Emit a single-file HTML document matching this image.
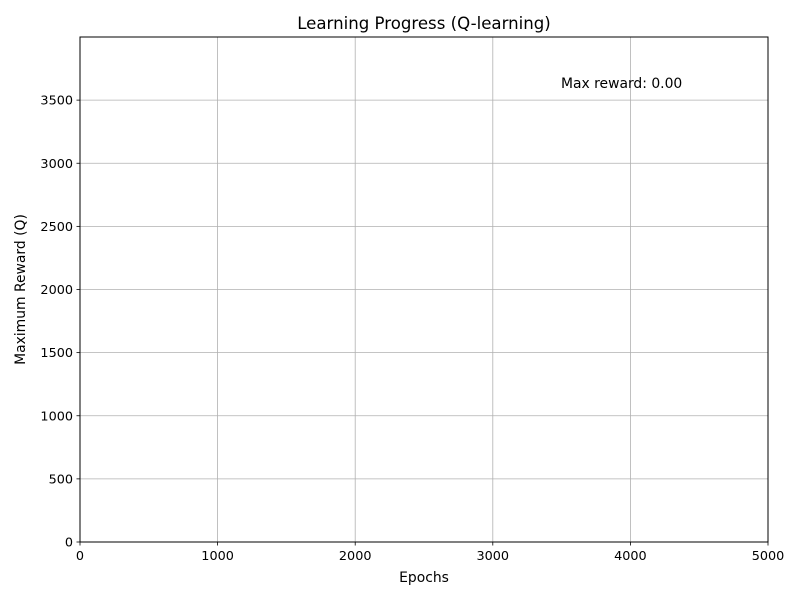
<!DOCTYPE html>
<html><head><meta charset="utf-8"><style>
body{margin:0;background:#fff;font-family:"DejaVu Sans","Liberation Sans",sans-serif;}
</style></head><body>
<svg id="chart" width="800" height="600" xmlns="http://www.w3.org/2000/svg" font-family="'DejaVu Sans','Liberation Sans',sans-serif">
<rect width="800" height="600" fill="#fff"/>
<g id="grid"></g>
<g id="series"></g>
<rect x="80" y="37" width="688" height="505" fill="none" stroke="#000" stroke-width="1"/>
<g id="ticks"></g>
<text x="424" y="29" font-size="16.6" text-anchor="middle">Learning Progress (Q-learning)</text>
<text x="424" y="582" font-size="13.9" text-anchor="middle">Epochs</text>
<text transform="translate(25,289.5) rotate(-90)" font-size="13.9" text-anchor="middle">Maximum Reward (Q)</text>
<text x="561" y="88" font-size="13.9">Max reward: 0.00</text>
</svg>
<script>
const xTicks=[0,1000,2000,3000,4000,5000];
const yTicks=[0,500,1000,1500,2000,2500,3000,3500];
const epochs=[0,5000];
const rewards=[0,0];
const X0=80,X1=768,Y0=542,Y1=37,XMAX=5000,YMAX=4000;
function sx(v){return X0+(v/XMAX)*(X1-X0);}
function sy(v){return Y0-(v/YMAX)*(Y0-Y1);}
const NS="http://www.w3.org/2000/svg";
const grid=document.getElementById('grid'),ticks=document.getElementById('ticks'),series=document.getElementById('series');
function mk(tag,attrs,parent){const e=document.createElementNS(NS,tag);for(const k in attrs)e.setAttribute(k,attrs[k]);parent.appendChild(e);return e;}
xTicks.forEach(t=>{const x=sx(t);
 const g=mk('line',{x1:x,x2:x,y1:Y1,y2:Y0,stroke:'#b0b0b0','stroke-width':0.8},grid);
 
 
 const tk=mk('line',{x1:x,x2:x,y1:Y0,y2:Y0+3.5,stroke:'#000','stroke-width':0.8},ticks);
 
 
 const tx=mk('text',{x:x,y:Y0+18,'font-size':12.8,'text-anchor':'middle'},ticks);tx.textContent=t;
 
 
});
yTicks.forEach(t=>{const y=sy(t);
 const g=mk('line',{x1:X0,x2:X1,y1:y,y2:y,stroke:'#b0b0b0','stroke-width':0.8},grid);
 
 
 const tk=mk('line',{x1:X0-3.5,x2:X0,y1:y,y2:y,stroke:'#000','stroke-width':0.8},ticks);
 
 
 const tx=mk('text',{x:X0-7,y:y+4.5,'font-size':12.8,'text-anchor':'end'},ticks);tx.textContent=t;
 
 
});
const pts=epochs.map((e,i)=>sx(e)+','+sy(rewards[i])).join(' ');
const pl=mk('polyline',{points:pts,fill:'none',stroke:'#000','stroke-width':1},series);


</script>
</body></html>
